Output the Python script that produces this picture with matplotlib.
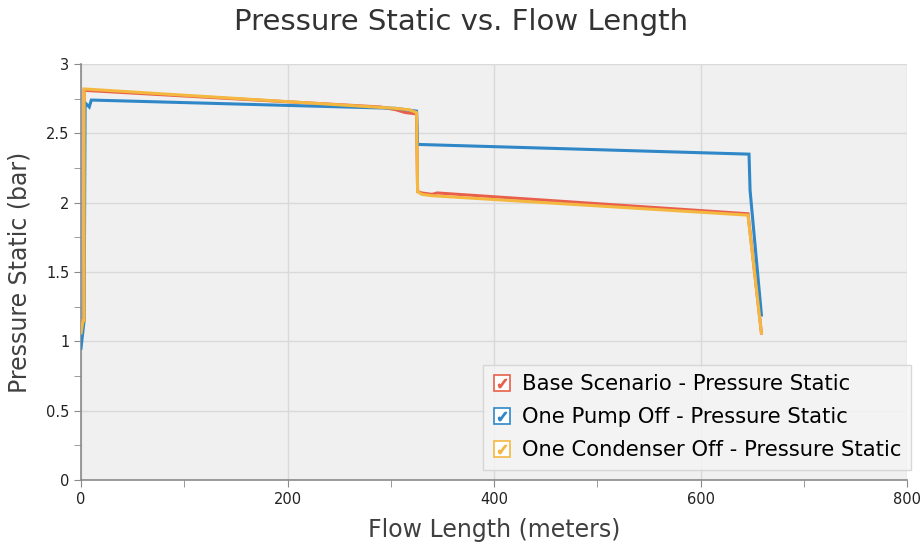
import matplotlib
matplotlib.use("Agg")
import matplotlib.pyplot as plt
from matplotlib.lines import Line2D
from matplotlib.legend_handler import HandlerTuple
from matplotlib.ticker import MultipleLocator, FuncFormatter

title = "Pressure Static vs. Flow Length"
xlabel = "Flow Length (meters)"
ylabel = "Pressure Static (bar)"

base_x = [0, 2, 3, 3, 290, 305, 314, 325, 326, 330, 340, 345, 646, 659]
base_y = [1.00, 1.15, 1.15, 2.81, 2.69, 2.67, 2.65, 2.64, 2.08, 2.07, 2.06, 2.07, 1.92, 1.06]

pump_x = [0, 3, 4, 8, 10, 305, 325, 326, 647, 648, 659]
pump_y = [0.95, 1.15, 2.72, 2.69, 2.74, 2.68, 2.66, 2.42, 2.35, 2.09, 1.19]

cond_x = [0, 2, 3, 3, 305, 318, 325, 326, 330, 340, 646, 659]
cond_y = [1.06, 1.15, 1.15, 2.82, 2.68, 2.67, 2.65, 2.08, 2.06, 2.05, 1.91, 1.06]

labels = ["Base Scenario - Pressure Static",
          "One Pump Off - Pressure Static",
          "One Condenser Off - Pressure Static"]
colors = ["#e8604c", "#2f87c8", "#f4b841"]

fig = plt.figure(figsize=(9.22, 5.47), dpi=100)
ax = fig.add_axes([81/922, 1-480/547, (907-81)/922, (480-64)/547])
ax.set_facecolor("#f0f0f0")

for xs, ys, c in zip([base_x, pump_x, cond_x], [base_y, pump_y, cond_y], colors):
    ax.plot(xs, ys, color=c, lw=2.2, solid_joinstyle="miter", zorder=3)

ax.set_xlim(0, 800)
ax.set_ylim(0, 3)
ax.xaxis.set_major_locator(MultipleLocator(200))
ax.xaxis.set_minor_locator(MultipleLocator(100))
ax.yaxis.set_major_locator(MultipleLocator(0.5))
ax.yaxis.set_minor_locator(MultipleLocator(0.25))
ax.yaxis.set_major_formatter(FuncFormatter(lambda v, p: f"{v:g}"))
ax.grid(which="major", color="#d9d9d9", lw=1, zorder=0)
ax.tick_params(which="both", direction="out", color="#8a8a8a", labelsize=10.5,
               labelcolor="#222222")
ax.tick_params(which="major", length=5)
ax.tick_params(which="minor", length=5)
for s in ["top", "right"]:
    ax.spines[s].set_visible(False)
for s in ["left", "bottom"]:
    ax.spines[s].set_color("#8a8a8a")
    ax.spines[s].set_linewidth(1.2)

ax.set_xlabel(xlabel, fontsize=17, color="#404040", labelpad=8)
ax.set_ylabel(ylabel, fontsize=17, color="#404040", labelpad=10)
fig.text(0.5, 1-22/547, title, ha="center", va="center", fontsize=21, color="#333333")

handles = []
for c in colors:
    sq = Line2D([], [], marker="s", markersize=11, markerfacecolor="white",
                markeredgecolor=c, markeredgewidth=1.2, linestyle="none")
    ck = Line2D([], [], marker="$\u2713$", markersize=6, color=c, linestyle="none")
    handles.append((sq, ck))
leg = fig.legend(handles, labels, handler_map={tuple: HandlerTuple(ndivide=1)},
                 loc="lower right", bbox_to_anchor=(911/922, 77/547),
                 borderaxespad=0, fontsize=15.2, frameon=True, fancybox=False,
                 handlelength=0.9, handletextpad=0.5, labelspacing=0.62,
                 borderpad=0.45)
leg.get_frame().set_facecolor("#f5f5f5")
leg.get_frame().set_edgecolor("#d0d0d0")

fig.savefig("out.png", dpi=100)
